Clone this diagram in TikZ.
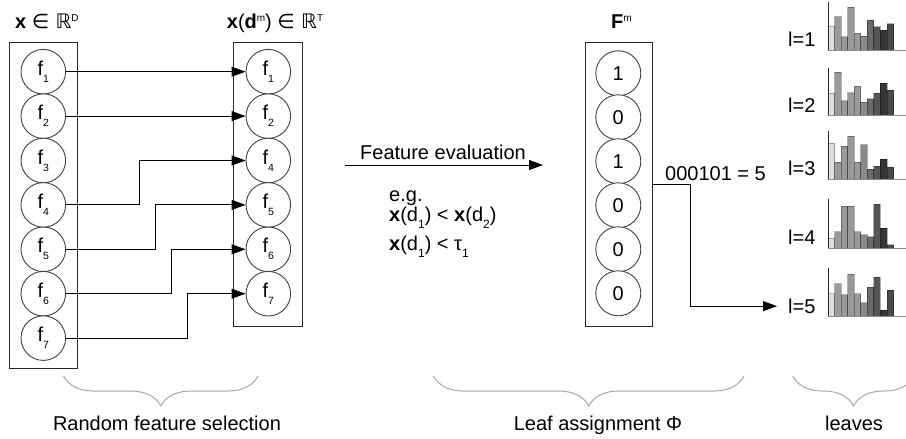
\documentclass[tikz,border=0pt]{standalone}
\usepackage{fontspec}
\setmainfont{Liberation Sans}
\newfontfamily\symfont{DejaVu Sans}
\usetikzlibrary{arrows.meta,decorations.pathreplacing}

% lowered index and raised exponent in text
\newcommand\lowsub[2][10.5]{\raisebox{-7pt}{\fontsize{#1}{#1}\selectfont #2}}
\newcommand\highsup[1]{\raisebox{7pt}{\fontsize{10}{10}\selectfont #1}}

% bar colours of the leaf histograms, light to dark
\definecolor{hc1}{HTML}{DEDEDE}
\definecolor{hc2}{HTML}{9A9A9A}
\definecolor{hc3}{HTML}{9A9A9A}
\definecolor{hc4}{HTML}{999999}
\definecolor{hc5}{HTML}{9A9A9A}
\definecolor{hc6}{HTML}{8A8A8A}
\definecolor{hc7}{HTML}{6A6A6A}
\definecolor{hc8}{HTML}{555555}
\definecolor{hc9}{HTML}{353535}
\definecolor{hc10}{HTML}{4A4A4A}

% one histogram: baseline y, axis top y, list of ten bar heights
\newcommand\histo[3]{%
  \foreach \hh [count=\k] in {#3} {
    \path[fill=hc\k, draw=black, draw opacity=0.3, line width=0.8pt]
      ({828+6.55*(\k-1)}, #1) rectangle ++(6.55, -\hh);
  }
  \draw[black!45, line width=1pt] (828,#1) -- (906,#1);
  \draw[black!85, line width=1pt] (828,#1) -- (828,#2);
}

\begin{document}
\begin{tikzpicture}[x=1pt, y=-1pt,
  font=\fontsize{20}{22}\selectfont,
  feat/.style={circle, draw=black!75, line width=0.9pt, minimum size=44.6pt,
    inner sep=0pt, fill=white},
  column/.style={draw=black!85, line width=0.9pt, inner sep=0pt},
  link/.style={line width=0.9pt, -{Triangle[length=14pt,width=10pt]}},
  brc/.style={decorate, decoration={brace, amplitude=30pt, mirror},
    draw=black!35, line width=1pt},
  lbl/.style={inner sep=0pt, anchor=base},
  lblw/.style={inner sep=0pt, anchor=base west}]
\useasboundingbox (0,0) rectangle (906,439);
\clip (0,0) rectangle (906,439);

% headers
\node[lblw] (hx) at (15,28.3) {\textbf{x} {\symfont ∈ ℝ}\highsup{D}};
\node[lblw] (hxd) at (226.7,28.3) {\textbf{x}(\textbf{d}\highsup{m}) {\symfont ∈ ℝ}\highsup{T}};
\node[lblw] (hF) at (611,28.3) {\textbf{F}\highsup{m}};

% feature columns
\node[column, minimum width=68pt, minimum height=325.7pt] (colX) at (43.3,205.15) {};
\node[column, minimum width=69pt, minimum height=284.4pt] (colD) at (267.8,184.5) {};
\node[column, minimum width=67.7pt, minimum height=284.4pt] (colF) at (618.85,184.5) {};

\foreach \i in {1,...,7}
  \node[feat] (a\i) at (43.3, {71.7+44.4*(\i-1)}) {f\lowsub{\i}};
\foreach \i/\j in {1/1,2/2,4/3,5/4,6/5,7/6}
  \node[feat] (b\i) at (268.3, {71.7+44.4*(\j-1)}) {f\lowsub{\i}};
\foreach \v [count=\k] in {1,0,1,0,0,0}
  \node[feat, minimum size=45pt] (c\k) at (618.3, {73.3+44*(\k-1)}) {\v};

% selected features
\draw[link] (a1) -- (b1);
\draw[link] (a2) -- (b2);
\draw[link] (a4.east) -- ++(73.3,0) |- (b4.west);
\draw[link] (a5.east) -- ++(89.3,0) |- (b5.west);
\draw[link] (a6.east) -- ++(105.3,0) |- (b6.west);
\draw[link] (a7.east) -- ++(121.3,0) |- (b7.west);

% feature evaluation
\coordinate (fe0) at (345,165);
\coordinate (fe1) at (543,165);
\draw[link] (fe0) -- (fe1);
\node[lbl] (fetext) at (443,159) {Feature evaluation};
\node[lblw] (eg) at (389,201.7) {e.g.};
\node[lblw] (test1) at (389,221.5) {\textbf{x}(d\lowsub[12]{1}) < \textbf{x}(d\lowsub[12]{2})};
\node[lblw] (test2) at (389,250) {\textbf{x}(d\lowsub[12]{1}) < τ\lowsub[12]{1}};

% leaves
\node[lblw] (l1) at (788,46.7) {l=1};
\node[lblw] (l2) at (788,112.3) {l=2};
\node[lblw] (l3) at (788,175) {l=3};
\node[lblw] (l4) at (788,244.3) {l=4};
\node[lblw] (l5) at (788,313.3) {l=5};

\histo{50}{2}{23.3,33.3,13.3,42.7,16.7,14,29.7,23.3,19.7,26.3}
\histo{115.3}{68}{22.3,43.3,14.7,22.7,29.3,13.3,16.7,22.3,32.3,25.3}
\histo{179}{130.7}{36,16.7,32.7,42.7,16.7,34.3,9.7,13,19.7,11.7}
\histo{248}{199.3}{10,16.3,42,42,16.3,13.3,11.3,43.7,19.7,3.3}
\histo{316}{268}{22.3,32.3,21.3,41.7,22.3,13.3,29,39,6,25.7}

% leaf index
\node[lbl] (code) at (715.5,180) {000101 = 5};
\draw[link] (colF.east) -- ++(37.3,0) |- ([xshift=-11pt]l5.west);

% stage braces
\draw[brc] (63.6,376) -- (258,376);
\draw[brc] (433.5,376) -- (744,376);
\draw[brc] (792.7,376) -- (914.3,376);
\node[lbl] (s1) at (167,430) {Random feature selection};
\node[lbl] (s2) at (598,430) {Leaf assignment Φ};
\node[lbl] (s3) at (854,430) {leaves};
\end{tikzpicture}
\end{document}
